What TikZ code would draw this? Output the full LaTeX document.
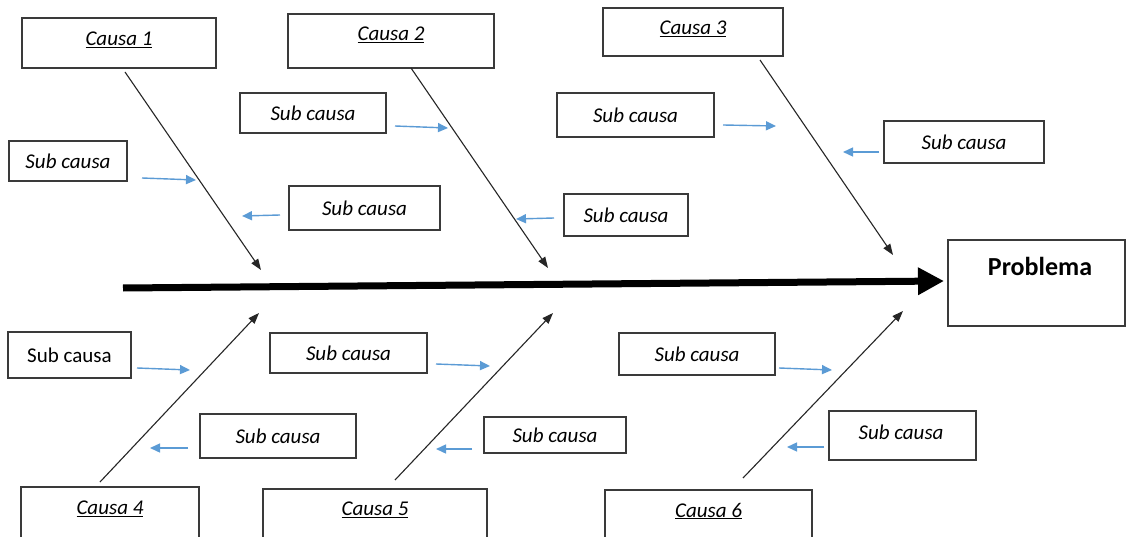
\documentclass[tikz,border=0pt]{standalone}
\usepackage{fontspec}
\setmainfont{Carlito}
\usetikzlibrary{arrows.meta}
\definecolor{subblue}{HTML}{5B9BD5}
\definecolor{boxgray}{HTML}{3A3A3A}
\tikzset{
  box/.style={draw=boxgray, line width=1.1pt, fill=white, inner sep=0pt},
  sub/.style={box, font=\fontsize{21}{24}\selectfont\itshape},
  lbl/.style={inner sep=0pt, font=\fontsize{21}{24}\selectfont\itshape},
  causearrow/.style={draw=black!85, line width=1.1pt, -{Triangle[length=11pt,width=8pt]}},
  subarrow/.style={draw=subblue, line width=1.4pt, -{Triangle[length=10pt,width=9pt]}},
  spine/.style={draw=black, line width=7pt, -{Triangle[length=26pt,width=26pt]}}
}
\begin{document}
\begin{tikzpicture}[x=1pt,y=-1pt]
\useasboundingbox (0,0) rectangle (1126,537);
\clip (0,0) rectangle (1126,537);
\fill[white] (0,0) rectangle (1126,537);

% cause boxes
\node[box, minimum width=194pt, minimum height=50pt] (c1) at (119,43) {};
\node[lbl] (t1) at (119,40) {\underline{Causa 1}};
\node[box, minimum width=206pt, minimum height=54pt] (c2) at (391,41) {};
\node[lbl] (t2) at (391,35) {\underline{Causa 2}};
\node[box, minimum width=180pt, minimum height=48pt] (c3) at (693,32) {};
\node[lbl] (t3) at (693,29) {\underline{Causa 3}};
\node[box, minimum width=178pt, minimum height=60pt] (c4) at (110,517) {};
\node[lbl] (t4) at (110,509) {\underline{Causa 4}};
\node[box, minimum width=224pt, minimum height=58pt] (c5) at (375,518) {};
\node[lbl] (t5) at (375,510) {\underline{Causa 5}};
\node[box, minimum width=207pt, minimum height=57pt] (c6) at (708.5,518.5) {};
\node[lbl] (t6) at (708.5,511) {\underline{Causa 6}};

% problem box
\node[box, minimum width=177pt, minimum height=86pt] (prob) at (1036.5,283) {};
\node[inner sep=0pt, font=\fontsize{26}{30}\selectfont\bfseries] (tp) at (1040,266) {Problema};

% sub-cause boxes
\node[sub, minimum width=118pt, minimum height=40pt] (s1) at (68,161) {Sub causa};
\node[sub, minimum width=146pt, minimum height=40pt] (s2) at (313,113) {Sub causa};
\node[sub, minimum width=151pt, minimum height=44pt] (s3) at (364.5,208) {Sub causa};
\node[sub, minimum width=157pt, minimum height=44pt] (s4) at (635.5,115) {Sub causa};
\node[sub, minimum width=124pt, minimum height=42pt] (s5) at (626,215) {Sub causa};
\node[sub, minimum width=160pt, minimum height=42pt] (s6) at (964,142) {Sub causa};
\node[sub, minimum width=123pt, minimum height=46pt, font=\fontsize{21}{24}\selectfont\upshape] (s7) at (69.5,355) {Sub causa};
\node[sub, minimum width=157pt, minimum height=40pt] (s8) at (348.5,353) {Sub causa};
\node[sub, minimum width=156pt, minimum height=44pt] (s9) at (278,436) {Sub causa};
\node[sub, minimum width=142pt, minimum height=36pt] (s10) at (555,435) {Sub causa};
\node[sub, minimum width=156pt, minimum height=42pt] (s11) at (697,354) {Sub causa};
\node[box, minimum width=147pt, minimum height=49pt] (s12) at (902.5,435.5) {};
\node[lbl] (t12) at (901,432) {Sub causa};

% spine
\coordinate (sp0) at (123,288);
\coordinate (sp1) at (944,281);
\draw[spine] (sp0) -- (sp1);

% cause arrows
\coordinate (a1s) at (125,72);  \coordinate (a1e) at (261,270);
\coordinate (a2s) at (411,68);  \coordinate (a2e) at (548,268);
\coordinate (a3s) at (760,60);  \coordinate (a3e) at (893,255);
\coordinate (a4s) at (100,482); \coordinate (a4e) at (259,313);
\coordinate (a5s) at (395,480); \coordinate (a5e) at (553,313);
\coordinate (a6s) at (743,478); \coordinate (a6e) at (903,311);
\draw[causearrow] (a1s) -- (a1e);
\draw[causearrow] (a2s) -- (a2e);
\draw[causearrow] (a3s) -- (a3e);
\draw[causearrow] (a4s) -- (a4e);
\draw[causearrow] (a5s) -- (a5e);
\draw[causearrow] (a6s) -- (a6e);

% sub-cause arrows
\coordinate (b1s) at (142,178); \coordinate (b1e) at (196,180);
\coordinate (b2s) at (395,126); \coordinate (b2e) at (448,128);
\coordinate (b3s) at (280,215); \coordinate (b3e) at (242,216);
\coordinate (b4s) at (723,125); \coordinate (b4e) at (776,126);
\coordinate (b5s) at (554,218); \coordinate (b5e) at (516,219);
\coordinate (b6s) at (879,152); \coordinate (b6e) at (843,152);
\coordinate (b7s) at (137,368); \coordinate (b7e) at (190,370);
\coordinate (b8s) at (436,364); \coordinate (b8e) at (490,366);
\coordinate (b9s) at (188,448); \coordinate (b9e) at (150,448);
\coordinate (b10s) at (472,449); \coordinate (b10e) at (436,449);
\coordinate (b11s) at (779,368); \coordinate (b11e) at (832,370);
\coordinate (b12s) at (824,447); \coordinate (b12e) at (787,447);
\foreach \i in {1,...,12} {\draw[subarrow] (b\i s) -- (b\i e);}
\end{tikzpicture}
\end{document}
